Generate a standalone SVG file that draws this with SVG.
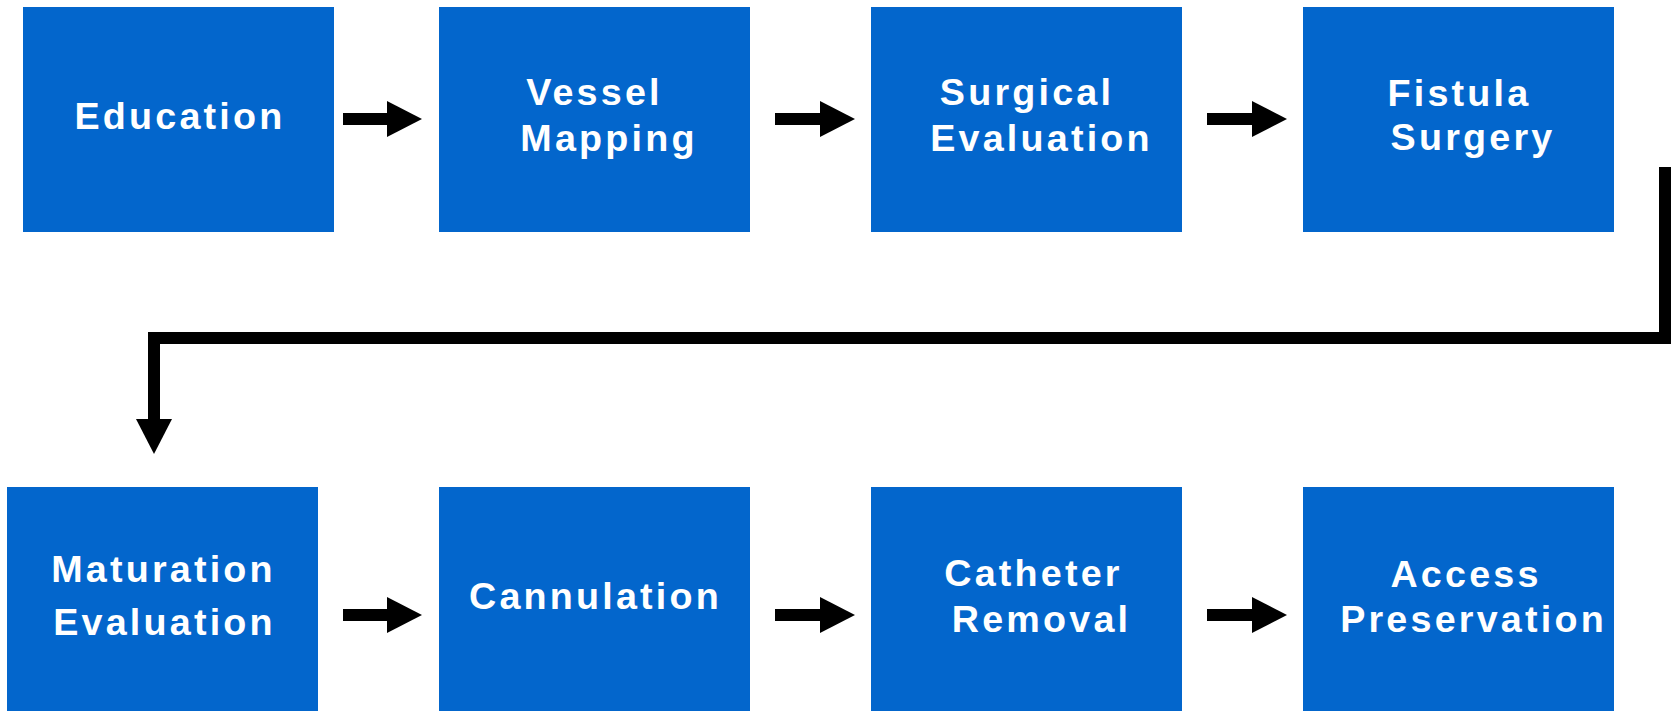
<svg xmlns="http://www.w3.org/2000/svg" width="1675" height="711" viewBox="0 0 1675 711">
  <style>
    .box { fill: #0366cc; }
    .lbl { fill: #ffffff; font-family: "Liberation Sans", Arial, sans-serif; font-weight: bold; font-size: 37.7px; letter-spacing: 3.2px; text-anchor: middle; }
    .conn { fill: none; stroke: #000000; stroke-width: 12; stroke-linejoin: miter; stroke-linecap: butt; }
  </style>
  <defs>
    <marker id="head" markerUnits="userSpaceOnUse" markerWidth="36" markerHeight="36" refX="0" refY="18" orient="auto" viewBox="0 0 36 36">
      <path d="M0,0 L35,18 L0,36 Z" fill="#000000"/>
    </marker>
  </defs>
  <rect width="1675" height="711" fill="#ffffff"/>

  <g id="node-education">
    <rect class="box" x="23" y="7" width="311" height="225"/>
    <text class="lbl" x="180" y="129">Education</text>
  </g>
  <g id="node-vessel-mapping">
    <rect class="box" x="439" y="7" width="311" height="225"/>
    <text class="lbl" x="594.5" y="105">Vessel</text>
    <text class="lbl" x="609" y="151">Mapping</text>
  </g>
  <g id="node-surgical-evaluation">
    <rect class="box" x="871" y="7" width="311" height="225"/>
    <text class="lbl" x="1027" y="105">Surgical</text>
    <text class="lbl" x="1041.5" y="151">Evaluation</text>
  </g>
  <g id="node-fistula-surgery">
    <rect class="box" x="1303" y="7" width="311" height="225"/>
    <text class="lbl" x="1459.5" y="106">Fistula</text>
    <text class="lbl" x="1473" y="150">Surgery</text>
  </g>
  <g id="node-maturation-evaluation">
    <rect class="box" x="7" y="487" width="311" height="225"/>
    <text class="lbl" x="163.5" y="582">Maturation</text>
    <text class="lbl" x="164.5" y="635">Evaluation</text>
  </g>
  <g id="node-cannulation">
    <rect class="box" x="439" y="487" width="311" height="225"/>
    <text class="lbl" x="595.5" y="609">Cannulation</text>
  </g>
  <g id="node-catheter-removal">
    <rect class="box" x="871" y="487" width="311" height="225"/>
    <text class="lbl" x="1033.5" y="586">Catheter</text>
    <text class="lbl" x="1041.5" y="632">Removal</text>
  </g>
  <g id="node-access-preservation">
    <rect class="box" x="1303" y="487" width="311" height="225"/>
    <text class="lbl" x="1466" y="587">Access</text>
    <text class="lbl" x="1473.5" y="632">Preservation</text>
  </g>

  <g id="connectors">
    <line class="conn" x1="343" y1="119" x2="387" y2="119" marker-end="url(#head)"/>
    <line class="conn" x1="775" y1="119" x2="820" y2="119" marker-end="url(#head)"/>
    <line class="conn" x1="1207" y1="119" x2="1252" y2="119" marker-end="url(#head)"/>
    <path class="conn" d="M1665,167 L1665,338 L154,338 L154,419" marker-end="url(#head)"/>
    <line class="conn" x1="343" y1="615" x2="387" y2="615" marker-end="url(#head)"/>
    <line class="conn" x1="775" y1="615" x2="820" y2="615" marker-end="url(#head)"/>
    <line class="conn" x1="1207" y1="615" x2="1252" y2="615" marker-end="url(#head)"/>
  </g>
</svg>
